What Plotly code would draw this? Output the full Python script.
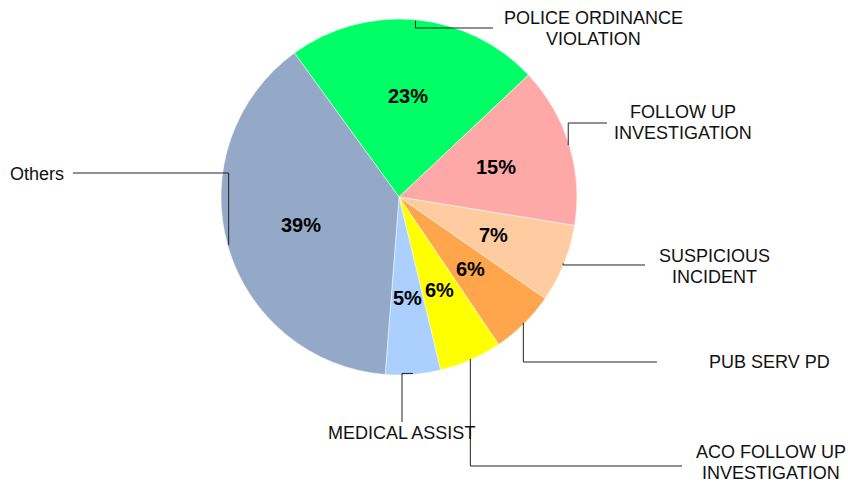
import math
import plotly.graph_objects as go

# ---- data ----
categories = ["POLICE ORDINANCE VIOLATION", "FOLLOW UP INVESTIGATION", "SUSPICIOUS INCIDENT",
              "PUB SERV PD", "ACO FOLLOW UP INVESTIGATION", "MEDICAL ASSIST", "Others"]
display_labels = [["POLICE ORDINANCE", "VIOLATION"], ["FOLLOW UP", "INVESTIGATION"],
                  ["SUSPICIOUS", "INCIDENT"], ["PUB SERV PD"], ["ACO FOLLOW UP", "INVESTIGATION"],
                  ["MEDICAL ASSIST"], ["Others"]]
values = [230, 146, 71, 59, 57, 50, 388]
colors = ["#00FF66", "#FFA8A8", "#FFCCA2", "#FFA64D", "#FFFF00", "#ABCFFF", "#94A9C7"]

# ---- layout ----
W, H = 848, 483
CX, CY, R = 399, 197, 178
ROTATION = -36
FONT = "Arial, Liberation Sans, sans-serif"
LINE_PITCH = 21

# label placement: text centre (px), text anchor, leader end point (px), elbow mode
label_layout = [
    dict(tx=593, ty=28, xanchor="center", ey=28, ex=493, mode="v"),
    dict(tx=683, ty=122, xanchor="center", ey=123, ex=607, mode="v"),
    dict(tx=714, ty=266, xanchor="center", ey=265, ex=645, mode="v"),
    dict(tx=769, ty=362, xanchor="center", ey=362, ex=657, mode="v"),
    dict(tx=771, ty=462, xanchor="center", ey=466, ex=682, mode="v"),
    dict(tx=401, ty=433, xanchor="center", ey=422, ex=402, mode="h"),
    dict(tx=66, ty=174, xanchor="right", ey=173, ex=73, mode="v"),
]


def px(x):
    return x / W


def py(y):
    return 1 - y / H


total = sum(values)
fig = go.Figure(go.Pie(
    labels=categories,
    values=values,
    sort=False,
    direction="clockwise",
    rotation=ROTATION,
    marker=dict(colors=colors, line=dict(color="white", width=0.5)),
    textinfo="none",
    showlegend=False,
    domain=dict(x=[(CX - R) / W, (CX + R) / W], y=[1 - (CY + R) / H, 1 - (CY - R) / H]),
))

annotations = []
shapes = []
cum = 0
for v, lines, lay in zip(values, display_labels, label_layout):
    mid = math.radians(ROTATION + (cum + v / 2) / total * 360)
    cum += v
    # percentage label inside slice
    r_in = 0.57 * R
    annotations.append(dict(
        x=px(CX + r_in * math.sin(mid)), y=py(CY - r_in * math.cos(mid)),
        xref="paper", yref="paper", showarrow=False,
        text=f"<b>{round(100 * v / total)}%</b>",
        font=dict(family=FONT, size=20, color="black"),
        xanchor="center", yanchor="middle",
    ))
    # leader line
    ax = CX + (R - 1) * math.sin(mid)
    ay = CY - (R - 1) * math.cos(mid)
    if lay["mode"] == "v":
        pts = [(ax, ay), (ax, lay["ey"]), (lay["ex"], lay["ey"])]
    else:
        pts = [(ax, ay), (lay["ex"], ay), (lay["ex"], lay["ey"])]
    path = "M " + " L ".join(f"{px(x):.5f},{py(y):.5f}" for x, y in pts)
    shapes.append(dict(type="path", path=path, xref="paper", yref="paper",
                       line=dict(color="#222222", width=1)))
    n = len(lines)
    for i, t in enumerate(lines):
        yy = lay["ty"] + (i - (n - 1) / 2) * LINE_PITCH
        annotations.append(dict(
            x=px(lay["tx"]), y=py(yy), xref="paper", yref="paper", showarrow=False,
            text=t, font=dict(family=FONT, size=18, color="#111111"),
            xanchor=lay["xanchor"], yanchor="middle", align="center",
        ))

fig.update_layout(
    width=W, height=H,
    margin=dict(l=0, r=0, t=0, b=0),
    paper_bgcolor="white", plot_bgcolor="white",
    annotations=annotations, shapes=shapes,
)

fig.write_html("out.html",
               config={"displayModeBar": False},
               post_script="document.body.style.margin='0';document.body.style.overflow='hidden';")
